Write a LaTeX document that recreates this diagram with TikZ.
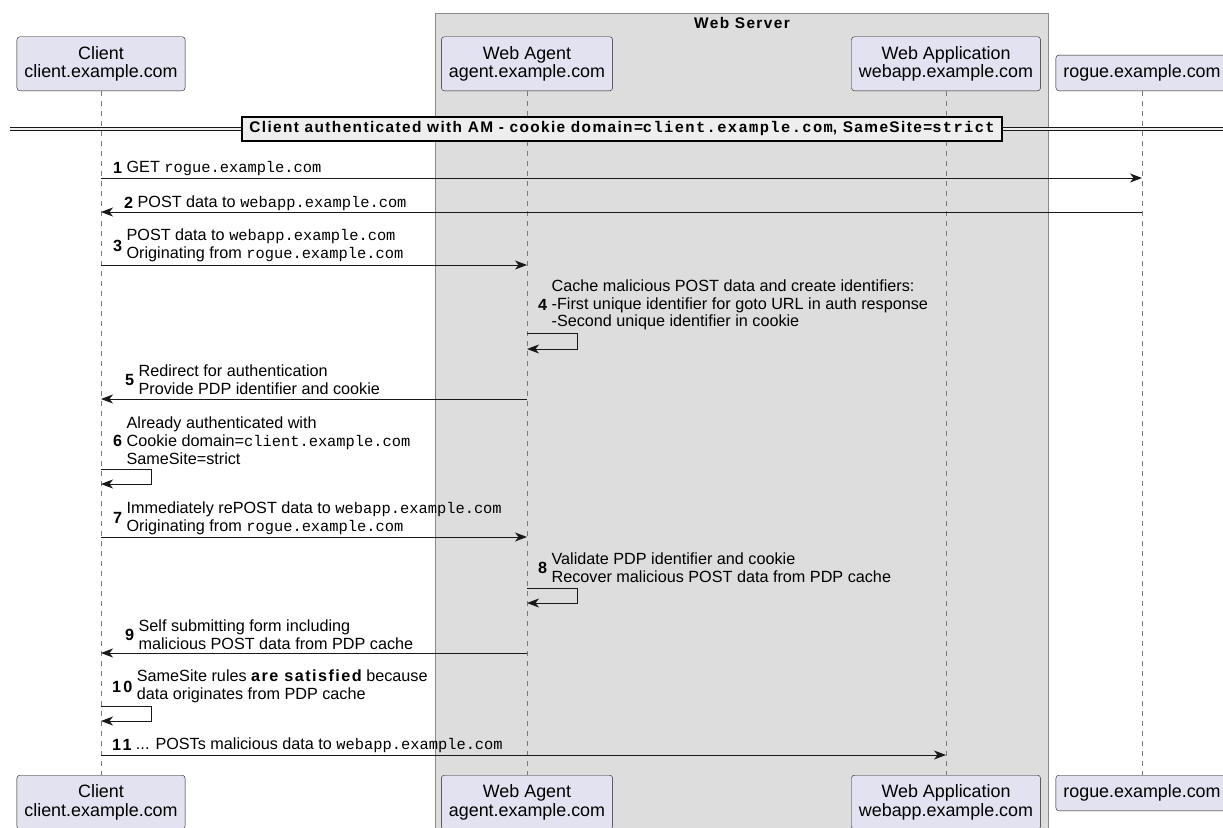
\documentclass[tikz,border=0pt]{standalone}
\usepackage{fontspec}
\setmainfont{Liberation Sans}
\setmonofont{Liberation Mono}[Scale=0.95]
\newfontfamily\spacedfont{Liberation Sans}[LetterSpace=9]
\newfontfamily\spacedmono{Liberation Mono}[LetterSpace=9]
\newfontfamily\numfont{Liberation Sans}[LetterSpace=14]
\usetikzlibrary{arrows.meta,positioning}
\definecolor{partfill}{HTML}{E2E2F0}
\definecolor{partline}{HTML}{181818}
\definecolor{groupfill}{HTML}{DDDDDD}
\definecolor{groupline}{HTML}{8A8A8A}
\definecolor{divfill}{HTML}{EEEEEE}
\definecolor{lifegray}{HTML}{7A7A7A}
\newcommand{\mono}[1]{{\ttfamily #1}}
\newcommand{\msgsize}{\fontsize{16.2}{17.8}\selectfont}
\newcommand{\titlesize}{\fontsize{15.4}{17}\selectfont}

\begin{document}
\begin{tikzpicture}[x=1pt, y=-1pt,
    part/.style={draw=partline, fill=partfill, rounded corners=3pt, align=center,
                 font=\fontsize{17.9}{18.4}\selectfont, inner xsep=7.5pt, inner ysep=9.5pt},
    group/.style={draw=groupline, fill=groupfill, line width=1pt},
    life/.style={draw=lifegray, dash pattern=on 5pt off 5pt, line width=0.8pt},
    msg/.style={-{Stealth[length=12pt, width=9pt, inset=3.5pt]}, draw=partline, line width=1pt},
    num/.style={font=\msgsize\numfont\bfseries, inner sep=0pt, anchor=west},
    lbl/.style={font=\msgsize, inner sep=0pt, align=left},
    sep/.style={draw=partline, line width=1pt, double=divfill, double distance=2.5pt},
    divider/.style={draw=black, line width=2pt, fill=divfill, inner xsep=7pt, inner ysep=5pt,
                    font=\titlesize\spacedfont\bfseries}]

    \useasboundingbox (0,0) rectangle (1223,827);
    \clip (0,0) rectangle (1223,827);

    % box round the server side
    \draw[group] (435,13) rectangle (1048,850);
    \node[font=\titlesize\spacedfont\bfseries, inner sep=0pt] (ws) at (742,23) {Web Server};

    % participants, top and bottom
    \node[part, anchor=south] (cl) at (101,91) {Client\\client.example.com};
    \node[part, anchor=south] (ag) at (527,91) {Web Agent\\agent.example.com};
    \node[part, anchor=south] (wa) at (946,91) {Web Application\\webapp.example.com};
    \node[part, anchor=south] (ro) at (1142,91) {rogue.example.com};

    \node[part, anchor=north] (clb) at (101,775) {Client\\client.example.com};
    \node[part, anchor=north] (agb) at (527,775) {Web Agent\\agent.example.com};
    \node[part, anchor=north] (wab) at (946,775) {Web Application\\webapp.example.com};
    \node[part, anchor=north] (rob) at (1142,775) {rogue.example.com};

    \foreach \i in {cl,ag,wa,ro}
        \draw[life] (\i) -- (\i b);

    % divider
    \coordinate (dl) at (10,129);
    \coordinate (dr) at (1240,129);
    \draw[sep] (dl) -- (dr);
    \node[divider] (div) at (622,129)
        {Client authenticated with AM - cookie domain={\spacedmono client.example.com}, SameSite={\spacedmono strict}};

    % rows of the messages
    \foreach \n/\y in {1/178, 2/212, 3/265, 4a/333, 4b/349, 5/399, 6a/469, 6b/484,
                       7/537, 8a/588, 8b/603, 9/653, 10a/706, 10b/721, 11/755}
        \coordinate (r\n) at (0,\y);

    % 1
    \node[num] (n1) at (113,168) {1};
    \node[lbl, right=4pt of n1] (t1) {GET \mono{rogue.example.com}};
    \draw[msg] (cl |- r1) -- (ro |- r1);

    % 2
    \node[num] (n2) at (124,203) {2};
    \node[lbl, right=4pt of n2] (t2) {POST data to \mono{webapp.example.com}};
    \draw[msg] (ro |- r2) -- (cl |- r2);

    % 3
    \node[num] (n3) at (113,245.5) {3};
    \node[lbl, right=4pt of n3] (t3) {POST data to \mono{webapp.example.com}\\Originating from \mono{rogue.example.com}};
    \draw[msg] (cl |- r3) -- (ag |- r3);

    % 4
    \node[num] (n4) at (538,305) {4};
    \node[lbl, right=4pt of n4] (t4) {Cache malicious POST data and create identifiers:\\-First unique identifier for goto URL in auth response\\-Second unique identifier in cookie};
    \draw[msg] (ag |- r4a) -- ++(50,0) |- (ag |- r4b);

    % 5
    \node[num] (n5) at (125,380) {5};
    \node[lbl, right=4pt of n5] (t5) {Redirect for authentication\\Provide PDP identifier and cookie};
    \draw[msg] (ag |- r5) -- (cl |- r5);

    % 6
    \node[num] (n6) at (113,441) {6};
    \node[lbl, right=4pt of n6] (t6) {Already authenticated with\\Cookie domain=\mono{client.example.com}\\SameSite=strict};
    \draw[msg] (cl |- r6a) -- ++(50,0) |- (cl |- r6b);

    % 7
    \node[num] (n7) at (113,518) {7};
    \node[lbl, right=4pt of n7] (t7) {Immediately rePOST data to \mono{webapp.example.com}\\Originating from \mono{rogue.example.com}};
    \draw[msg] (cl |- r7) -- (ag |- r7);

    % 8
    \node[num] (n8) at (538,568) {8};
    \node[lbl, right=4pt of n8] (t8) {Validate PDP identifier and cookie\\Recover malicious POST data from PDP cache};
    \draw[msg] (ag |- r8a) -- ++(50,0) |- (ag |- r8b);

    % 9
    \node[num] (n9) at (125,635) {9};
    \node[lbl, right=4pt of n9] (t9) {Self submitting form including\\malicious POST data from PDP cache};
    \draw[msg] (ag |- r9) -- (cl |- r9);

    % 10
    \node[num] (n10) at (112,686.5) {10};
    \node[lbl, right=4pt of n10] (t10) {SameSite rules {\spacedfont\bfseries are satisfied} because\\data originates from PDP cache};
    \draw[msg] (cl |- r10a) -- ++(50,0) |- (cl |- r10b);

    % 11
    \node[num] (n11) at (112,745) {11};
    \node[lbl, right=4pt of n11] (t11) {... POSTs malicious data to \mono{webapp.example.com}};
    \draw[msg] (cl |- r11) -- (wa |- r11);
\end{tikzpicture}
\end{document}
